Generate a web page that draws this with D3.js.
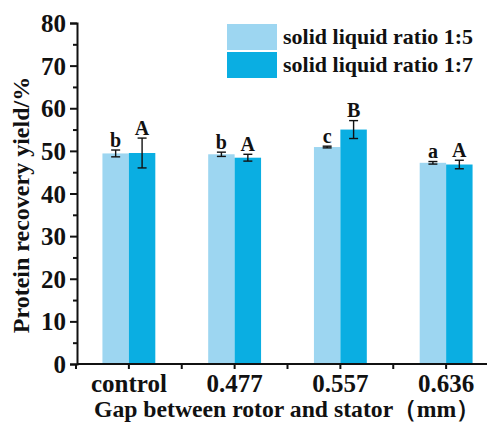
<!DOCTYPE html>
<html>
<head>
<meta charset="utf-8">
<script src="https://cdn.jsdelivr.net/npm/d3@7"></script>
<style>
  body { margin: 0; background: #fff; }
  text { font-family: "Liberation Serif", "Times New Roman", serif; font-weight: bold; }
</style>
</head>
<body>
<svg id="chart" width="487" height="424"></svg>
<script>
// ---- data ----
const categories = ["control", "0.477", "0.557", "0.636"];
const seriesNames = ["solid liquid ratio 1:5", "solid liquid ratio 1:7"];
const ratio15 = [49.4, 49.2, 50.9, 47.2];
const ratio15Err = [0.8, 0.5, 0.2, 0.3];
const ratio17 = [49.5, 48.4, 55.0, 46.8];
const ratio17Err = [3.5, 0.8, 2.1, 1.0];
const letters15 = ["b", "b", "c", "a"];
const letters17 = ["A", "A", "B", "A"];
const yTicks = [0, 10, 20, 30, 40, 50, 60, 70, 80];
const yMinorTicks = [5, 15, 25, 35, 45, 55, 65, 75];
const xTitle = "Gap between rotor and stator（mm）";
const yTitle = "Protein recovery yield/%";

const colors = ["#9dd6f1", "#0aaee2"];
const values = [ratio15, ratio17];
const errs = [ratio15Err, ratio17Err];
const letters = [letters15, letters17];

const svg = d3.select("#chart");

const x = d3.scaleBand().domain(categories).range([76, 499]).paddingInner(0.5).paddingOuter(0.25);
const xs = d3.scaleBand().domain([0, 1]).range([0, x.bandwidth()]);
const y = d3.scaleLinear().domain([0, 80]).range([364, 23]);

// bars
const g = svg.append("g");
categories.forEach((c, i) => {
  [0, 1].forEach(s => {
    const v = values[s][i], e = errs[s][i];
    const bx = x(c) + xs(s);
    g.append("rect")
      .attr("x", bx).attr("y", y(v))
      .attr("width", xs.bandwidth()).attr("height", y(0) - y(v))
      .attr("fill", colors[s]);
    const cx = bx + xs.bandwidth() / 2;
    const eg = g.append("g").attr("stroke", "#111").attr("stroke-width", 1.4);
    eg.append("line").attr("x1", cx).attr("x2", cx).attr("y1", y(v + e)).attr("y2", y(v - e));
    eg.append("line").attr("x1", cx - 4.5).attr("x2", cx + 4.5).attr("y1", y(v + e)).attr("y2", y(v + e));
    eg.append("line").attr("x1", cx - 4.5).attr("x2", cx + 4.5).attr("y1", y(v - e)).attr("y2", y(v - e));
    g.append("text")
      .attr("x", cx).attr("y", y(v + e) - 3.5)
      .attr("text-anchor", "middle")
      .attr("font-size", 20)
      .attr("fill", "#111")
      .text(letters[s][i]);
  });
});

// y axis
const yAxis = svg.append("g").attr("transform", "translate(77,0)")
  .call(d3.axisLeft(y).tickValues(yTicks).tickSize(7).tickPadding(4).tickFormat(d3.format("d")));
svg.append("g").attr("transform", "translate(77,0)")
  .call(d3.axisLeft(y).tickValues(yMinorTicks).tickSize(4).tickFormat(""))
  .call(a => a.select(".domain").remove());

// x axis
const xAxis = svg.append("g").attr("transform", "translate(0,364)")
  .call(d3.axisBottom(x).tickSize(5).tickPadding(5).tickSizeOuter(0));
xAxis.select(".domain").attr("d", "M77,0H487");
const bounds = categories.map(c => x(c) + x.bandwidth() / 2 - x.step() / 2);
const mg = svg.append("g").attr("transform", "translate(0,364)");
bounds.forEach(b => {
  mg.append("line").attr("x1", b).attr("x2", b).attr("y1", 0).attr("y2", 5)
    .attr("stroke", "#111").attr("stroke-width", 2);
});

svg.selectAll(".tick line").attr("stroke", "#111").attr("stroke-width", 2);
svg.selectAll(".domain").attr("stroke", "#111").attr("stroke-width", 2);
yAxis.selectAll("text").attr("font-size", 25).attr("fill", "#111").attr("dy", "0.34em")
  .attr("font-family", "Liberation Serif").attr("font-weight", "bold");
xAxis.selectAll("text").attr("font-size", 25).attr("fill", "#111")
  .attr("font-family", "Liberation Serif").attr("font-weight", "bold");

// titles
svg.append("text").attr("x", 94).attr("y", 417)
  .attr("textLength", 386).attr("lengthAdjust", "spacingAndGlyphs")
  .attr("font-size", 24).attr("fill", "#111").text(xTitle);
svg.append("text").attr("transform", "translate(29,205) rotate(-90)").attr("text-anchor", "middle")
  .attr("font-size", 24).attr("fill", "#111").text(yTitle);

// legend
seriesNames.forEach((n, i) => {
  const ly = 24 + i * 28;
  svg.append("rect").attr("x", 227).attr("y", ly).attr("width", 50).attr("height", 26).attr("fill", colors[i]);
  svg.append("text").attr("x", 283).attr("y", ly + 13).attr("dy", "0.34em")
    .attr("font-size", 22).attr("fill", "#111").text(n);
});
</script>
</body>
</html>
